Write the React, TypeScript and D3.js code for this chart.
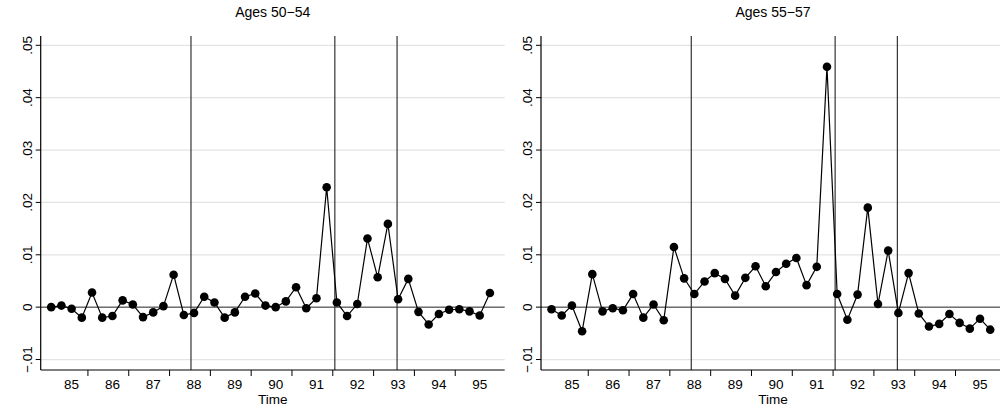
import React from 'react';
import * as d3 from 'd3';

const titles = ['Ages 50\u221254', 'Ages 55\u221257'];
const ages5054 = [0, .0003, -.0003, -.002, .0028, -.002, -.0017, .0013, .0005, -.0019, -.001, .0002, .0062, -.0015, -.0011, .002, .0009, -.002, -.001, .002, .0026, .0003, 0, .0011, .0038, -.0002, .0017, .0229, .0009, -.0017, .0006, .0131, .0057, .0159, .0015, .0054, -.0009, -.0033, -.0013, -.0005, -.0004, -.0008, -.0016, .0027];
const ages5557 = [-.0004, -.0016, .0003, -.0046, .0063, -.0008, -.0002, -.0006, .0025, -.002, .0005, -.0025, .0115, .0055, .0025, .0049, .0065, .0054, .0022, .0056, .0078, .004, .0067, .0083, .0094, .0042, .0077, .0459, .0025, -.0024, .0024, .019, .0006, .0108, -.0011, .0065, -.0012, -.0037, -.0032, -.0013, -.0030, -.0041, -.0022, -.0043];
const yearLabels = ['85', '86', '87', '88', '89', '90', '91', '92', '93', '94', '95'];
const yTicks = [-0.01, 0, 0.01, 0.02, 0.03, 0.04, 0.05];
const yTickLabels = ['\u2212.01', '0', '.01', '.02', '.03', '.04', '.05'];
const eventLines = [13.7, 27.8, 33.9];

const Panel: React.FC<{ ox: number; title: string; values: number[] }> = ({ ox, title, values }) => {
  const w = 464;
  const x = d3.scaleLinear().domain([-1.03, 44.45]).range([0, w]);
  const y = d3.scaleLinear().domain([-0.012, 0.05]).range([370, 45.3]);
  const line = d3.line<number>().x((_, i) => x(i)).y(d => y(d));
  const font = 'Liberation Sans, Arial, sans-serif';
  return (
    <g transform={`translate(${ox},0)`}>
      <text x={w / 2} y={17} textAnchor="middle" fontSize={14} fontFamily={font}>{title}</text>
      {yTicks.map((t, i) => (
        <g key={i}>
          <line x1={0} x2={w} y1={y(t)} y2={y(t)} stroke={t === 0 ? '#222' : '#e3e3e3'} strokeWidth={t === 0 ? 1 : 1.2} />
          <line x1={-5} x2={0} y1={y(t)} y2={y(t)} stroke="#000" />
          <text transform={`translate(${-9},${y(t)}) rotate(-90)`} textAnchor="middle" fontSize={13.5} fontFamily={font}>{yTickLabels[i]}</text>
        </g>
      ))}
      {eventLines.map((v, i) => (
        <line key={i} x1={x(v)} x2={x(v)} y1={36} y2={370} stroke="#333" strokeWidth={1.2} />
      ))}
      <line x1={0} x2={0} y1={36} y2={370} stroke="#000" strokeWidth={1.2} />
      <line x1={0} x2={w} y1={370} y2={370} stroke="#000" strokeWidth={1.2} />
      {yearLabels.map((l, i) => (
        <g key={l}>
          <text x={x(2 + 4 * i)} y={389} textAnchor="middle" fontSize={13.5} fontFamily={font}>{l}</text>
          {i < yearLabels.length - 1 && <line x1={x(3.6 + 4 * i)} x2={x(3.6 + 4 * i)} y1={370} y2={376} stroke="#000" />}
        </g>
      ))}
      <text x={w / 2} y={404} textAnchor="middle" fontSize={13.5} fontFamily={font}>Time</text>
      <path d={line(values) || ''} fill="none" stroke="#000" strokeWidth={1.2} />
      {values.map((v, i) => <circle key={i} cx={x(i)} cy={y(v)} r={4.3} fill="#000" />)}
    </g>
  );
};

export default function App() {
  return (
    <svg width={1000} height={409} style={{ position: 'absolute', left: 0, top: 0, background: '#fff' }}>
      <rect width={1000} height={409} fill="#fff" />
      <Panel ox={40.7} title={titles[0]} values={ages5054} />
      <Panel ox={541} title={titles[1]} values={ages5557} />
    </svg>
  );
}
